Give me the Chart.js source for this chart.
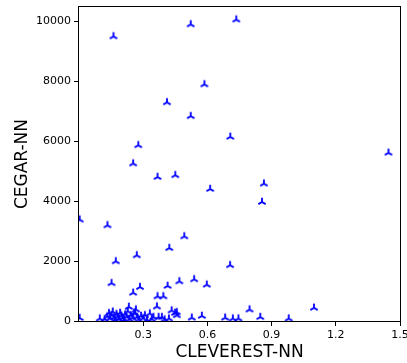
<!DOCTYPE html>
<html>
<head>
<meta charset="utf-8">
<script src="https://cdn.jsdelivr.net/npm/chart.js@4.4.0/dist/chart.umd.min.js"></script>
<style>
  html, body { margin: 0; padding: 0; background: #fff; }
</style>
</head>
<body>
<canvas id="scatterChart" width="407" height="363"></canvas>
<script>
// CLEVEREST-NN (x) vs CEGAR-NN (y), one pair per instance
var cleverestNN = [
    0.161, 0.522, 0.735, 0.586, 0.411, 0.522, 0.707, 0.277, 0.253, 0.367,
    0.450, 0.613, 0.864, 0.855, 1.446, 0.003, 0.133, 0.172, 0.270, 0.422,
    0.492, 0.706, 0.152, 0.253, 0.285, 0.414, 0.469, 0.538, 0.597, 0.367,
    0.394, 0.797, 1.098, 0.233, 0.364, 0.433, 0.457, 0.266, 0.527, 0.574,
    0.683, 0.719, 0.745, 0.847, 0.980, 0.003, 0.097,
    0.120, 0.132, 0.140, 0.146, 0.152, 0.158, 0.163, 0.168, 0.175, 0.180,
    0.186, 0.192, 0.198, 0.204, 0.210, 0.216, 0.222, 0.228, 0.236, 0.242,
    0.250, 0.258, 0.262, 0.270, 0.278, 0.290, 0.300, 0.308, 0.318, 0.331,
    0.340, 0.348, 0.372, 0.387, 0.400, 0.449, 0.457, 0.420
];
var cegarNN = [
    9490, 9890, 10050, 7890, 7290, 6830, 6140, 5860, 5250, 4800,
    4860, 4400, 4580, 3970, 5610, 3380, 3190, 1990, 2190, 2430,
    2820, 1860, 1260, 940, 1130, 1170, 1320, 1390, 1210, 820,
    820, 380, 440, 470, 480, 350, 290, 380, 110, 170,
    110, 80, 80, 130, 80, 100, 80,
    60, 150, 260, 90, 200, 310, 120, 40, 230, 150,
    70, 270, 180, 100, 30, 220, 140, 320, 60, 190,
    110, 280, 250, 130, 50, 170, 90, 190, 40, 250,
    60, 130, 130, 130, 50, 270, 190, 80
];
var xTicks = [0.3, 0.6, 0.9, 1.2, 1.5];
var yTicks = [0, 2000, 4000, 6000, 8000, 10000];

// matplotlib-like "tri_up" marker
function triUp(color) {
    var c = document.createElement('canvas');
    c.width = 12; c.height = 12;
    var g = c.getContext('2d');
    var cx = 6, cy = 6, r = 4.2;
    g.strokeStyle = color;
    g.lineWidth = 1.8;
    g.beginPath();
    g.moveTo(cx, cy); g.lineTo(cx, cy - r);
    g.moveTo(cx, cy); g.lineTo(cx - r * 0.866, cy + r * 0.5);
    g.moveTo(cx, cy); g.lineTo(cx + r * 0.866, cy + r * 0.5);
    g.stroke();
    return c;
}

var framePlugin = {
    id: 'frame',
    afterDatasetsDraw: function (chart) {
        var a = chart.chartArea, ctx = chart.ctx;
        ctx.save();
        ctx.strokeStyle = '#000';
        ctx.lineWidth = 1;
        ctx.strokeRect(Math.round(a.left) - 0.5, Math.round(a.top) - 0.5,
            Math.round(a.right - a.left) + 1, Math.round(a.bottom - a.top) + 1);
        ctx.restore();
    }
};

var points = cleverestNN.map(function (x, i) { return { x: x, y: cegarNN[i] }; });

var ctx = document.getElementById('scatterChart').getContext('2d');
var chart = new Chart(ctx, {
    type: 'scatter',
    data: {
        datasets: [{
            data: points,
            pointStyle: triUp('#0000ff'),
            clip: 0
        }]
    },
    options: {
        responsive: false,
        animation: false,
        layout: { padding: { top: 7, right: 7, left: 0, bottom: 0 } },
        plugins: { legend: { display: false }, tooltip: { enabled: false } },
        scales: {
            x: {
                type: 'linear',
                min: 0,
                max: 1.5,
                afterBuildTicks: function (scale) {
                    scale.ticks = xTicks.map(function (v) { return { value: v }; });
                },
                afterFit: function (scale) {
                    scale.height = 42;
                    scale.paddingRight = 0;
                    scale.paddingLeft = 0;
                },
                ticks: {
                    color: '#000',
                    padding: 3,
                    maxRotation: 0,
                    font: { family: 'DejaVu Sans', size: 11 },
                    callback: function (v) { return v.toFixed(1); }
                },
                grid: { drawOnChartArea: false, tickLength: 5, tickColor: '#000' },
                border: { display: false },
                title: {
                    display: true,
                    text: 'CLEVEREST-NN',
                    color: '#000',
                    font: { family: 'DejaVu Sans', size: 17 },
                    padding: { top: 0, bottom: 0 }
                }
            },
            y: {
                type: 'linear',
                min: 0,
                max: 10470,
                afterBuildTicks: function (scale) {
                    scale.ticks = yTicks.map(function (v) { return { value: v }; });
                },
                afterFit: function (scale) {
                    scale.width = 79;
                    scale.paddingTop = 0;
                    scale.paddingBottom = 0;
                },
                ticks: {
                    color: '#000',
                    padding: 3,
                    font: { family: 'DejaVu Sans', size: 11 },
                    callback: function (v) { return String(v); }
                },
                grid: { drawOnChartArea: false, tickLength: 5, tickColor: '#000' },
                border: { display: false },
                title: {
                    display: true,
                    text: 'CEGAR-NN',
                    color: '#000',
                    font: { family: 'DejaVu Sans', size: 17 },
                    padding: { top: 12, bottom: 0 }
                }
            }
        }
    },
    plugins: [framePlugin]
});
</script>
</body>
</html>
